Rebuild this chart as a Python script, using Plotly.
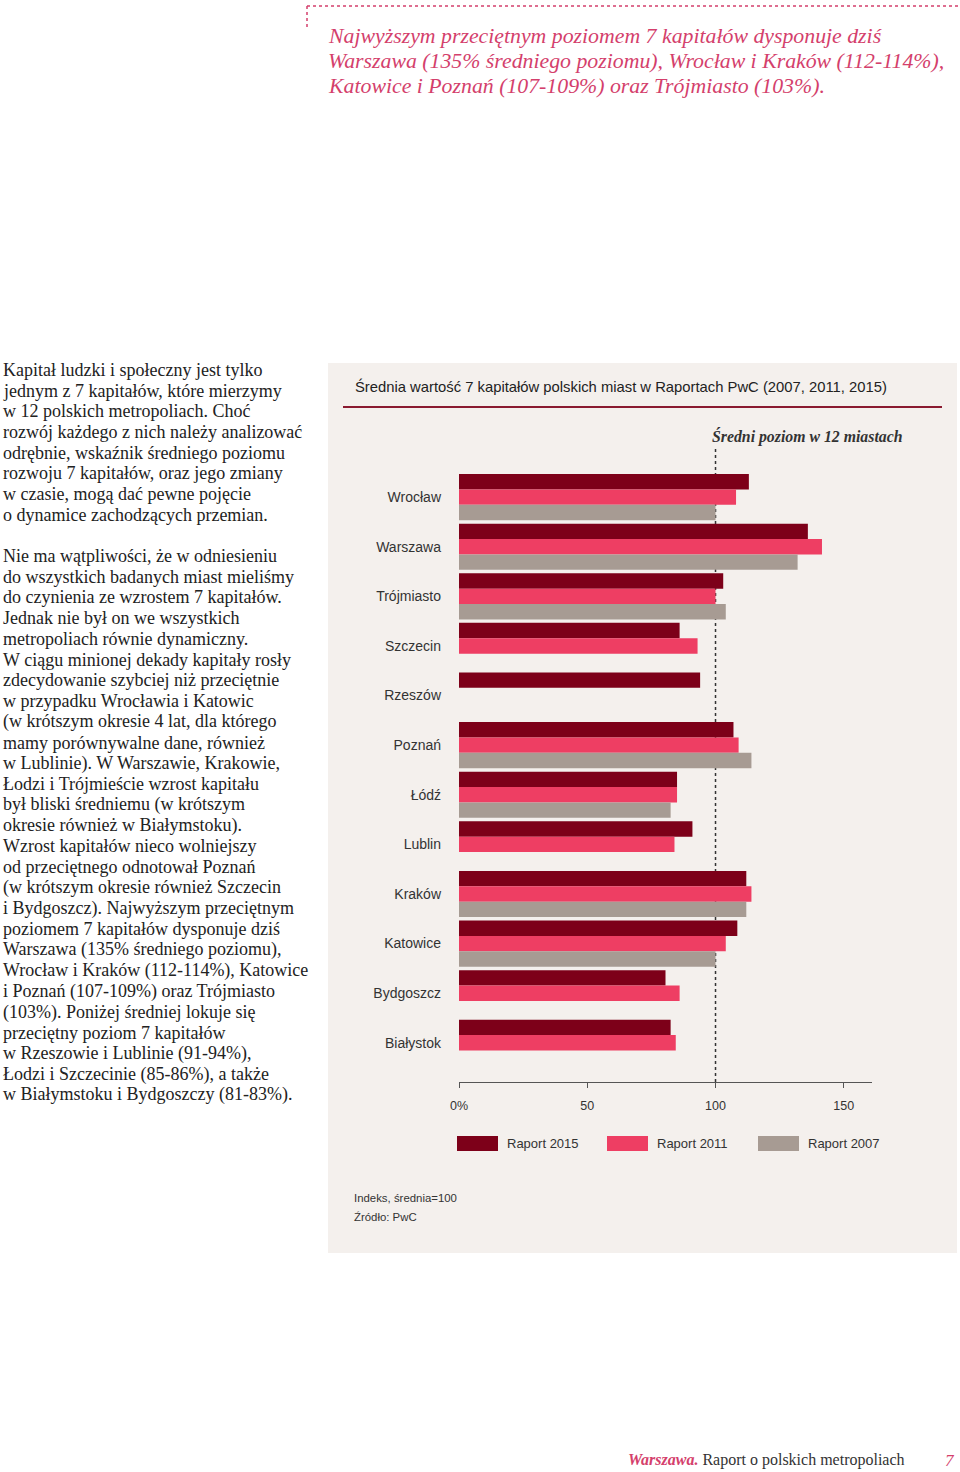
import plotly.graph_objects as go

# ---------------- data ----------------
cities = ["Wrocław", "Warszawa", "Trójmiasto", "Szczecin", "Rzeszów", "Poznań",
          "Łódź", "Lublin", "Kraków", "Katowice", "Bydgoszcz", "Białystok"]
r2015 = [113, 136, 103, 86, 94, 107, 85, 91, 112, 108.5, 80.5, 82.5]
r2011 = [108, 141.5, 100, 93, None, 109, 85, 84, 114, 104, 86, 84.5]
r2007 = [100, 132, 104, None, None, 114, 82.5, None, 112, 100, None, None]
series_names = ["Raport 2015", "Raport 2011", "Raport 2007"]
x_ticks = [0, 50, 100, 150]
x_tick_labels = ["0%", "50", "100", "150"]
avg_level = 100

header_lines = [
    "Najwyższym przeciętnym poziomem 7 kapitałów dysponuje dziś",
    "Warszawa (135% średniego poziomu), Wrocław i Kraków (112-114%),",
    "Katowice i Poznań (107-109%) oraz Trójmiasto (103%).",
]
para1 = [
    "Kapitał ludzki i społeczny jest tylko",
    "jednym z 7 kapitałów, które mierzymy",
    "w 12 polskich metropoliach. Choć",
    "rozwój każdego z nich należy analizować",
    "odrębnie, wskaźnik średniego poziomu",
    "rozwoju 7 kapitałów, oraz jego zmiany",
    "w czasie, mogą dać pewne pojęcie",
    "o dynamice zachodzących przemian.",
]
para2 = [
    "Nie ma wątpliwości, że w odniesieniu",
    "do wszystkich badanych miast mieliśmy",
    "do czynienia ze wzrostem 7 kapitałów.",
    "Jednak nie był on we wszystkich",
    "metropoliach równie dynamiczny.",
    "W ciągu minionej dekady kapitały rosły",
    "zdecydowanie szybciej niż przeciętnie",
    "w przypadku Wrocławia i Katowic",
    "(w krótszym okresie 4 lat, dla którego",
    "mamy porównywalne dane, również",
    "w Lublinie). W Warszawie, Krakowie,",
    "Łodzi i Trójmieście wzrost kapitału",
    "był bliski średniemu (w krótszym",
    "okresie również w Białymstoku).",
    "Wzrost kapitałów nieco wolniejszy",
    "od przeciętnego odnotował Poznań",
    "(w krótszym okresie również Szczecin",
    "i Bydgoszcz). Najwyższym przeciętnym",
    "poziomem 7 kapitałów dysponuje dziś",
    "Warszawa (135% średniego poziomu),",
    "Wrocław i Kraków (112-114%), Katowice",
    "i Poznań (107-109%) oraz Trójmiasto",
    "(103%). Poniżej średniej lokuje się",
    "przeciętny poziom 7 kapitałów",
    "w Rzeszowie i Lublinie (91-94%),",
    "Łodzi i Szczecinie (85-86%), a także",
    "w Białymstoku i Bydgoszczy (81-83%).",
]
chart_title = "Średnia wartość 7 kapitałów polskich miast w Raportach PwC (2007, 2011, 2015)"
avg_label = "Średni poziom w 12 miastach"
notes = ["Indeks, średnia=100", "Źródło: PwC"]

# ---------------- styles ----------------
W, H = 960, 1472
C2015, C2011, C2007 = "#7d0019", "#ee3e63", "#a79b93"
colors = [C2015, C2011, C2007]
PINK = "#d43f6c"
PANEL = "#f4f0ed"
SANS = "Liberation Sans, Arial, sans-serif"
SERIF = "Liberation Serif, Times New Roman, serif"


def px(x):
    return x / W


def py(y):
    return 1 - y / H


fig = go.Figure()
for name, vals, col in zip(series_names, [r2015, r2011, r2007], colors):
    fig.add_trace(go.Bar(
        y=cities, x=vals, name=name, orientation="h",
        marker=dict(color=col, line=dict(width=0)),
        showlegend=False, hoverinfo="x+y",
    ))

shapes = []
# panel background
shapes.append(dict(type="rect", xref="paper", yref="paper", x0=px(328), x1=px(957),
                   y0=py(1253), y1=py(363), fillcolor=PANEL, line=dict(width=0), layer="below"))
# title underline
shapes.append(dict(type="line", xref="paper", yref="paper", x0=px(343), x1=px(942),
                   y0=py(407), y1=py(407), line=dict(color="#8a1a30", width=2)))
# header dotted frame
shapes.append(dict(type="line", xref="paper", yref="paper", x0=px(307), x1=px(960),
                   y0=py(6), y1=py(6), line=dict(color=PINK, width=1.5, dash="dot")))
shapes.append(dict(type="line", xref="paper", yref="paper", x0=px(307), x1=px(307),
                   y0=py(6), y1=py(28), line=dict(color=PINK, width=1.5, dash="dot")))
# average level dotted line
shapes.append(dict(type="line", xref="x", yref="paper", x0=avg_level, x1=avg_level,
                   y0=py(1082), y1=py(448), line=dict(color="#333333", width=1.5, dash="dot"),
                   layer="below"))
# legend swatches
legend_x = [457, 607, 758]
for lx, col in zip(legend_x, colors):
    shapes.append(dict(type="rect", xref="paper", yref="paper", x0=px(lx), x1=px(lx + 41),
                       y0=py(1151), y1=py(1136), fillcolor=col, line=dict(width=0)))

ann = []


def text(x, y, s, size, family, color, xanchor="left", **kw):
    ann.append(dict(x=px(x), y=py(y), xref="paper", yref="paper", text=s, showarrow=False,
                    xanchor=xanchor, yanchor="middle",
                    font=dict(size=size, family=family, color=color), **kw))


for i, line in enumerate(header_lines):
    text(326, 36 + i * 25, "<i>" + line + "</i>", 21.8, SERIF, PINK)
for i, line in enumerate(para1):
    text(1, 370 + i * 20.7, line, 18, SERIF, "#222222")
for i, line in enumerate(para2):
    text(1, 556 + i * 20.73, line, 18, SERIF, "#222222")
text(353, 387, chart_title, 14.8, SANS, "#222222")
text(710, 436, "<b><i>" + avg_label + "</i></b>", 15.8, SERIF, "#333333")
for lx, name in zip(legend_x, series_names):
    text(lx + 48, 1143, name, 13, SANS, "#333333")
text(352, 1198, notes[0], 11.4, SANS, "#333333")
text(352, 1217, notes[1], 11.4, SANS, "#333333")
# footer
text(626, 1460, "<b><i>Warszawa.</i></b> <span style='color:#333333'>Raport o polskich metropoliach</span>",
     16, SERIF, PINK)
text(957, 1460, "<i>7</i>", 17, SERIF, PINK, xanchor="right")

fig.update_layout(
    width=W, height=H, margin=dict(l=0, r=0, t=0, b=0, pad=0, autoexpand=False),
    paper_bgcolor="white", plot_bgcolor="rgba(0,0,0,0)",
    barmode="group", bargap=0.07, bargroupgap=0,
    xaxis=dict(domain=[px(459), px(872)], range=[0, 161], tickvals=x_ticks,
               ticktext=x_tick_labels, ticks="outside", ticklen=5, tickcolor="#555555",
               showline=True, linecolor="#555555", linewidth=1, showgrid=False,
               zeroline=False, tickfont=dict(family=SANS, size=12.5, color="#333333"),
               ticklabelstandoff=7, fixedrange=True, automargin=False),
    yaxis=dict(domain=[py(1082), py(448)], range=[11.79, -0.99], type="category",
               categoryorder="array", categoryarray=cities, showline=False, ticks="",
               showgrid=False, zeroline=False,
               tickfont=dict(family=SANS, size=14, color="#333333"),
               ticklabelstandoff=17, fixedrange=True, automargin=False),
    shapes=shapes, annotations=ann, showlegend=False,
)

fig.write_html(
    "out.html",
    config={"displayModeBar": False, "responsive": False},
    post_script="document.body.style.margin='0px';"
                "document.body.style.padding='0px';"
                "document.documentElement.style.overflow='hidden';"
                "document.body.style.overflow='hidden';",
)
